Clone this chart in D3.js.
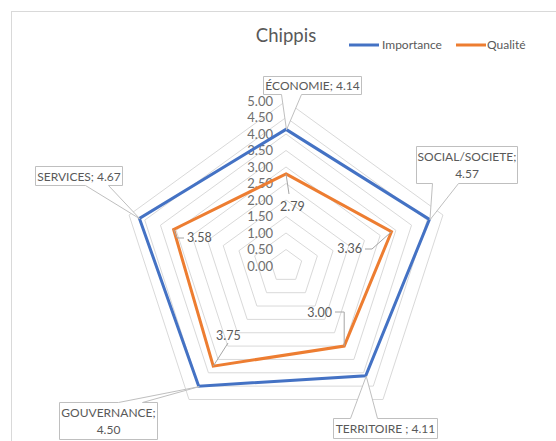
<!DOCTYPE html>
<html><head><meta charset="utf-8">
<script src="https://cdn.jsdelivr.net/npm/d3@7"></script>
<style>body{margin:0;background:#fff}svg{display:block}text{font-family:Lato,"Open Sans",sans-serif}</style>
</head><body>
<script>
const title = "Chippis";
const categories = ["ÉCONOMIE","SOCIAL/SOCIETE","TERRITOIRE","GOUVERNANCE","SERVICES"];
const seriesNames = ["Importance","Qualité"];
const importance = [4.14,4.57,4.11,4.50,4.67];
const qualite = [2.79,3.36,3.00,3.75,3.58];
const tickValues = [0,0.5,1,1.5,2,2.5,3,3.5,4,4.5,5];
const colors = ["#4472C4","#ED7D31"];

const W=556,H=441, cx=286, cy=266, R=165;
const svg=d3.select("body").append("svg").attr("width",W).attr("height",H);
svg.append("rect").attr("x",11.5).attr("y",11.5).attr("width",W).attr("height",H).attr("fill","none").attr("stroke","#d9d9d9");

const r=d3.scaleLinear().domain([0,5]).range([0,R]);
const ang=d3.scalePoint().domain(categories).range([0,2*Math.PI*4/5]);
const pt=(c,v)=>{const a=ang(c);return [cx+r(v)*Math.sin(a), cy-r(v)*Math.cos(a)];};

// grid rings
tickValues.filter(t=>t>0).forEach(t=>{
  svg.append("path").attr("d",d3.line()(categories.map(c=>pt(c,t)))+"Z")
    .attr("fill","none").attr("stroke","#d9d9d9").attr("stroke-width",1);
});
// tick labels
svg.selectAll(".tk").data(tickValues).join("text")
  .attr("x",cx-13).attr("y",d=>cy-r(d)).attr("dy","0.35em").attr("text-anchor","end")
  .attr("font-size",13).attr("fill","#6f6f6f").text(d=>d.toFixed(2));

// series
[importance,qualite].forEach((vals,i)=>{
  svg.append("path").attr("d",d3.line()(categories.map((c,j)=>pt(c,vals[j])))+"Z")
    .attr("fill","none").attr("stroke",colors[i]).attr("stroke-width",3).attr("stroke-linejoin","miter");
});

// title
svg.append("text").attr("x",286).attr("y",42).attr("text-anchor","middle").attr("font-size",18.5).attr("fill","#595959").text(title);
// legend
const leg=[{x:349,tx:382},{x:456,tx:487}];
seriesNames.forEach((n,i)=>{
  svg.append("line").attr("x1",leg[i].x).attr("x2",leg[i].x+30).attr("y1",45).attr("y2",45).attr("stroke",colors[i]).attr("stroke-width",3);
  svg.append("text").attr("x",leg[i].tx).attr("y",45).attr("dy","0.35em").attr("font-size",12).attr("fill","#595959").text(n);
});

// callouts for Importance (layout: box and wedge attachment)
const boxes=[
  {x0:263,y0:76,x1:361,y1:94,side:"bottom",wa:281,wb:301,lines:1},
  {x0:416,y0:146,x1:517,y1:183,side:"bottom",wa:432,wb:458,lines:2},
  {x0:333,y0:418,x1:437,y1:438,side:"top",wa:350,wb:377,lines:1},
  {x0:59,y0:402,x1:157,y1:439,side:"top",wa:118,wb:142,lines:2},
  {x0:35,y0:166,x1:122,y1:185,side:"bottom",wa:85,wb:108,lines:1}
];
const sep=[";",";"," ;",";",";"];
categories.forEach((c,j)=>{
  const b=boxes[j], p=pt(c,importance[j]);
  let d;
  if(b.side==="bottom") d=`M${b.x0},${b.y0}L${b.x1},${b.y0}L${b.x1},${b.y1}L${b.wb},${b.y1}L${p[0]},${p[1]}L${b.wa},${b.y1}L${b.x0},${b.y1}Z`;
  else d=`M${b.x0},${b.y0}L${b.wa},${b.y0}L${p[0]},${p[1]}L${b.wb},${b.y0}L${b.x1},${b.y0}L${b.x1},${b.y1}L${b.x0},${b.y1}Z`;
  svg.append("path").attr("d",d).attr("fill","#fff").attr("stroke","#bfbfbf").attr("stroke-width",1).attr("transform","translate(0.5,0.5)");
  const mx=(b.x0+b.x1)/2+0.5;
  const t=svg.append("text").attr("text-anchor","middle").attr("font-size",12).attr("fill","#595959");
  if(b.lines===1){
    t.append("tspan").attr("x",mx).attr("y",(b.y0+b.y1)/2+1).attr("dy","0.35em").text(c+sep[j]+" "+importance[j].toFixed(2));
  } else {
    const my=(b.y0+b.y1)/2;
    t.append("tspan").attr("x",mx).attr("y",my-8).attr("dy","0.35em").text(c+sep[j]);
    t.append("tspan").attr("x",mx).attr("y",my+9).attr("dy","0.35em").text(importance[j].toFixed(2));
  }
});

// Qualité labels with leader lines (layout offsets)
const qlab=[
  {tx:280,ty:207,anchor:"start",lead:p=>[[p[0],p[1]],[289,194]]},
  {tx:362,ty:249,anchor:"end",lead:p=>[[365,249],[372,249],[p[0],p[1]]]},
  {tx:332,ty:313,anchor:"end",lead:p=>[[335,312],[p[0],312],[p[0],p[1]]]},
  {tx:216,ty:336,anchor:"start",lead:p=>[[p[0],p[1]],[228,343]]},
  {tx:187,ty:238,anchor:"start",lead:p=>[[p[0],p[1]],[177,238],[184,238]]}
];
categories.forEach((c,j)=>{
  const q=qlab[j], p=pt(c,qualite[j]);
  svg.append("path").attr("d",d3.line()(q.lead(p))).attr("fill","none").attr("stroke","#a6a6a6").attr("stroke-width",1);
  svg.append("text").attr("x",q.tx).attr("y",q.ty).attr("dy","0.35em").attr("text-anchor",q.anchor)
    .attr("font-size",12.5).attr("fill","#595959").text(qualite[j].toFixed(2));
});
</script>
</body></html>
